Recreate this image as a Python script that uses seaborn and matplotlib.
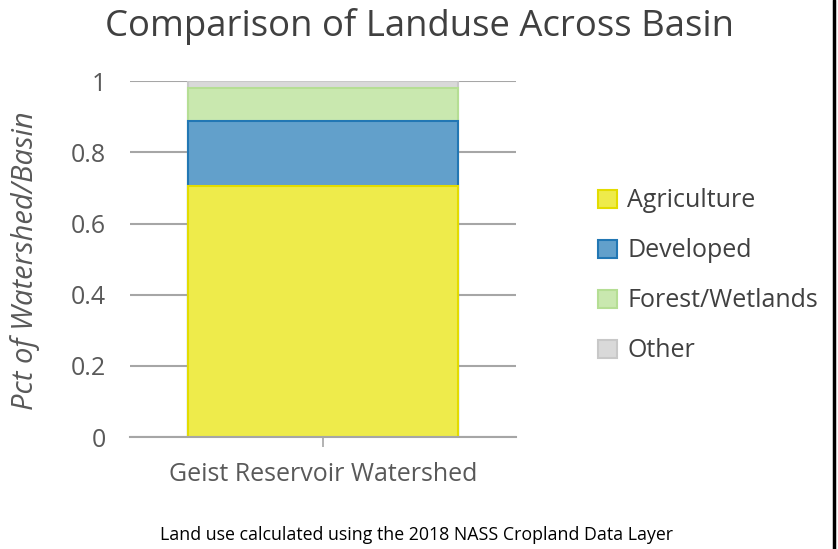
import seaborn as sns
import matplotlib.pyplot as plt
import pandas as pd
from matplotlib.patches import Patch
from matplotlib.lines import Line2D

# Landuse shares for the one watershed
watershed = ["Geist Reservoir Watershed"]
landuse = ["Agriculture", "Developed", "Forest/Wetlands", "Other"]
share = [0.705, 0.183, 0.092, 0.020]

fills = ["#EEEB4B", "#62A0CB", "#C9E8AF", "#D9D9D9"]
edges = ["#E3DC00", "#2277B4", "#B5DE94", "#C8C8C8"]

sns.set_theme(style="white")
plt.rcParams["font.family"] = ["Open Sans", "DejaVu Sans"]

df = pd.DataFrame({"watershed": watershed * len(landuse), "landuse": landuse, "share": share})
df["top"] = df["share"].cumsum()

fig = plt.figure(figsize=(8.38, 5.49), dpi=100)
ax = fig.add_axes([0.155, 0.204, 0.461, 0.648])

# stacked look: draw cumulative bars from the tallest down
for i in reversed(range(len(landuse))):
    sns.barplot(
        data=df.iloc[[i]],
        x="watershed",
        y="top",
        color=fills[i],
        edgecolor=edges[i],
        linewidth=1.5,
        width=0.7,
        saturation=1,
        ax=ax,
    )

ax.set_xlim(-0.5, 0.5)
ax.set_ylim(0, 1)
ax.set_yticks([0, 0.2, 0.4, 0.6, 0.8, 1])
ax.set_yticklabels(["0", "0.2", "0.4", "0.6", "0.8", "1"])
ax.yaxis.grid(True, color="#A6A6A6", linewidth=1.5)
ax.set_axisbelow(True)
sns.despine(ax=ax, left=True, top=True, right=True)
ax.spines["bottom"].set_color("#A6A6A6")
ax.spines["bottom"].set_linewidth(1.5)
ax.tick_params(axis="y", length=0, pad=17, labelsize=18, labelcolor="#595959")
ax.tick_params(axis="x", length=7, width=1.2, color="#A6A6A6", direction="out",
               pad=11, labelsize=18, labelcolor="#595959", bottom=True)
ax.set_xlabel("")
ax.set_ylabel("")

fig.text(0.030, 0.525, "Pct of Watershed/Basin", rotation=90, ha="center", va="center",
         fontsize=21, style="italic", color="#595959")
fig.suptitle("Comparison of Landuse Across Basin", x=0.5, y=0.952, va="center",
             fontsize=26.3, color="#404040")
fig.text(0.497, 0.025, "Land use calculated using the 2018 NASS Cropland Data Layer",
         ha="center", va="center", fontsize=12.8, color="black")

handles = [Patch(facecolor=f, edgecolor=e, linewidth=1.5) for f, e in zip(fills, edges)]
fig.legend(handles, landuse, loc="upper left", bbox_to_anchor=(0.702, 0.675),
           frameon=False, fontsize=18, labelcolor="#404040", handlelength=0.75,
           handleheight=0.75, handletextpad=0.4, labelspacing=1.0, borderaxespad=0)

fig.add_artist(Line2D([0.995, 0.995], [0, 1], transform=fig.transFigure, color="black", lw=2.5))

fig.savefig("out.png", dpi=100)
